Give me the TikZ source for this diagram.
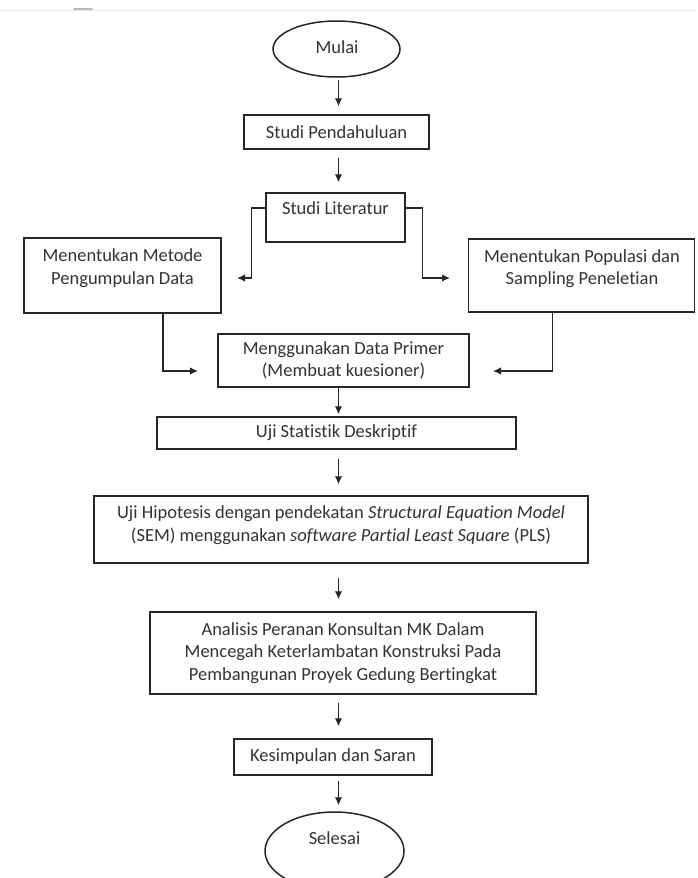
\documentclass[tikz,border=0pt]{standalone}
\usepackage{fontspec}
\setmainfont{Carlito}[Ligatures=NoCommon]
\usetikzlibrary{arrows.meta,shapes.geometric,calc}
\begin{document}
\begin{tikzpicture}[x=1pt,y=-1pt,
  lbl/.style={font=\fontsize{18.5}{22.5}\selectfont, text=black!80},
  box/.style={lbl, draw=black!85, line width=1.5pt, rectangle, inner sep=0pt, align=center},
  term/.style={lbl, draw=black!85, line width=1.5pt, ellipse, inner sep=0pt},
  txt/.style={lbl, inner sep=0pt, align=center},
  arr/.style={draw=black!85, line width=1.4pt, -{Latex[length=8pt,width=7.5pt]}}]
\useasboundingbox (0,0) rectangle (697,878);
% faint top rule of the scan
\draw[gray!18, line width=1pt] (0,10) -- (697,10);
\draw[gray!55, line width=2pt, line cap=round] (74,9) -- (92,9);

\coordinate (ax) at (338.5,0);

% nodes
\node[term, minimum width=127pt, minimum height=56pt] (mulai) at (336.5,49) {};
\node[txt] (mulaitxt) at (337,47) {Mulai};

\node[box, minimum width=185pt, minimum height=34pt] (pend) at (336.5,132) {Studi Pendahuluan};

\node[box, minimum width=139pt, minimum height=49pt] (lit) at (335.5,217.5) {};
\node[txt] (littxt) at (335.5,208) {Studi Literatur};

\node[box, minimum width=197pt, minimum height=75pt] (metode) at (122.5,275.5) {};
\node[txt] (metodetxt) at (122.5,268) {Menentukan Metode\\Pengumpulan Data};

\node[box, minimum width=226pt, minimum height=73pt] (popul) at (581.5,275.5) {};
\node[txt] (popultxt) at (582,268.5) {Menentukan Populasi dan\\Sampling Peneletian};

\node[box, minimum width=251pt, minimum height=53pt] (primer) at (343.5,360.5) {Menggunakan Data Primer\\(Membuat kuesioner)};

\node[box, minimum width=359pt, minimum height=32pt] (stat) at (336.5,433) {Uji Statistik Deskriptif};

\node[box, minimum width=494pt, minimum height=67pt] (hipo) at (341,529.5) {};
\node[txt] (hipotxt) at (341,525) {Uji Hipotesis dengan pendekatan \textit{Structural Equation Model}\\(SEM) menggunakan \textit{software Partial Least Square} (PLS)};

\node[box, minimum width=386pt, minimum height=82pt] (anal) at (343,653) {Analisis Peranan Konsultan MK Dalam\\Mencegah Keterlambatan Konstruksi Pada\\Pembangunan Proyek Gedung Bertingkat};

\node[box, minimum width=198pt, minimum height=36pt] (kes) at (333,757) {Kesimpulan dan Saran};

\node[term, minimum width=139pt, minimum height=78pt] (sel) at (334.5,851) {};
\node[txt] (seltxt) at (334.5,838) {Selesai};

% free ends of side connectors
\coordinate (la) at (237,278);
\coordinate (ra) at (450,278);
\coordinate (lb) at (198,371);
\coordinate (rb) at (493,371);

% connectors
\draw[arr, shorten <=2pt, shorten >=8pt] (mulai.south -| ax) -- (pend.north -| ax);
\draw[arr, shorten <=8pt, shorten >=10pt] (pend.south -| ax) -- (lit.north -| ax);
\draw[arr] (littxt -| lit.west) -- ++(-14,0) |- (la);
\draw[arr] (littxt -| lit.east) -- ++(17,0) |- (ra);
\draw[arr] ([xshift=40.5pt]metode.south) |- (lb);
\draw[arr] ([xshift=-29pt]popul.south) |- (rb);
\draw[arr, shorten >=2pt] (primer.south -| ax) -- (stat.north -| ax);
\draw[arr, shorten <=9pt, shorten >=11pt] (stat.south -| ax) -- (hipo.north -| ax);
\draw[arr, shorten <=14pt, shorten >=12pt] (hipo.south -| ax) -- (anal.north -| ax);
\draw[arr, shorten <=8pt, shorten >=12pt] (anal.south -| ax) -- (kes.north -| ax);
\draw[arr, shorten <=5pt, shorten >=6pt] (kes.south -| ax) -- (sel.north -| ax);
\end{tikzpicture}
\end{document}
